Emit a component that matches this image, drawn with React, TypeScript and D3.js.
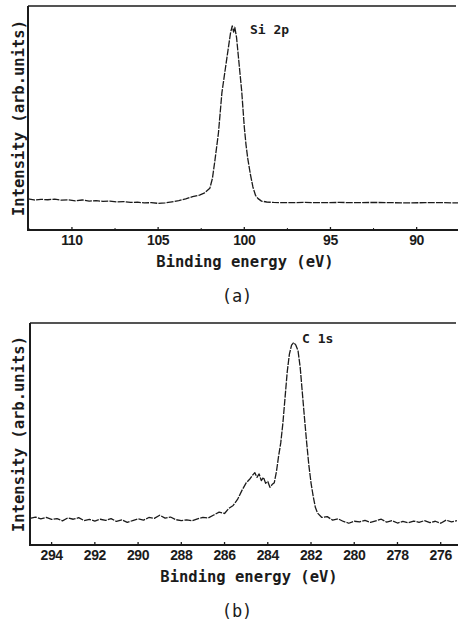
import React from "react";
import * as d3 from "d3";

// Si 2p spectrum (a)
const si2pEnergy = [
  112.55, 112.2, 111.8, 111.4, 111.0, 110.6, 110.2, 109.8, 109.4, 109.0, 108.6, 108.2,
  107.8, 107.4, 107.0, 106.6, 106.2, 105.8, 105.4, 105.0, 104.6, 104.2, 103.8, 103.4,
  103.0, 102.6, 102.3, 102.0, 101.85, 101.7, 101.5, 101.3, 101.1, 100.95, 100.8, 100.7,
  100.62, 100.55, 100.45, 100.35, 100.25, 100.15, 100.0, 99.9, 99.8, 99.65, 99.5, 99.35,
  99.2, 99.0, 98.7, 98.3, 97.5, 96.5, 95.5, 94.5, 93.5, 92.5, 91.5, 90.5, 89.5, 88.5, 87.6,
];
const si2pIntensity = [
  13.9, 13.4, 13.7, 13.5, 13.8, 13.3, 13.5, 13.0, 13.4, 12.9, 13.1, 12.8,
  12.9, 12.5, 12.7, 12.3, 12.4, 12.1, 12.2, 11.9, 12.1, 12.6, 13.1, 13.9,
  14.9, 15.6, 16.6, 18.6, 23, 31.3, 43.3, 61.2, 72, 80, 87.9, 91.1,
  88.4, 90.5, 86, 78, 70, 62, 46, 38, 32, 25, 19.2, 15.5,
  14.0, 12.9, 12.5, 12.3, 12.2, 12.3, 12.2, 12.3, 12.2, 12.3, 12.2, 12.1, 12.2, 12.2, 12.1,
];
const si2pTicks = [110, 105, 100, 95, 90];
const si2pMinorTicks = [112.5, 107.5, 102.5, 97.5, 92.5];

// C 1s spectrum (b)
const c1sEnergy = [
  295.0, 294.75, 294.5, 294.25, 294.0, 293.75, 293.5, 293.25, 293.0, 292.75, 292.5, 292.25,
  292.0, 291.75, 291.5, 291.25, 291.0, 290.75, 290.5, 290.25, 290.0, 289.75, 289.5, 289.25,
  289.0, 288.75, 288.5, 288.25, 288.0, 287.75, 287.5, 287.25, 287.0, 286.75, 286.5, 286.25,
  286.0, 285.8, 285.6, 285.4, 285.2, 285.0, 284.85, 284.7, 284.6, 284.5, 284.4, 284.3,
  284.2, 284.1, 284.0, 283.9, 283.8, 283.7, 283.6, 283.5, 283.4, 283.3, 283.2, 283.1,
  283.0, 282.9, 282.8, 282.7, 282.6, 282.5, 282.4, 282.3, 282.2, 282.1, 282.0, 281.9,
  281.8, 281.7, 281.5, 281.25, 281.0, 280.75, 280.5, 280.25, 280.0, 279.75, 279.5, 279.25,
  279.0, 278.75, 278.5, 278.25, 278.0, 277.75, 277.5, 277.25, 277.0, 276.75, 276.5, 276.25,
  276.0, 275.75, 275.5, 275.25,
];
const c1sIntensity = [
  12.0, 12.6, 11.8, 12.4, 11.5, 11.9, 10.9, 12.2, 11.6, 12.3, 11.0, 11.5,
  10.8, 11.6, 11.1, 11.9, 10.6, 11.3, 10.2, 11.0, 11.8, 11.2, 12.4, 12.0,
  13.4, 12.1, 12.6, 11.4, 11.0, 11.3, 10.9, 11.8, 12.4, 12.2, 13.5, 14.8,
  14.2, 16.5, 17.8, 20.5, 24.5, 28.0, 29.5, 31.5, 32.6, 30.5, 32.0, 29.0,
  30.5, 27.8, 28.6, 26.0, 27.2, 28.0, 33.0, 40.0, 46.0, 55.0, 66.5, 78.0,
  86.0, 90.0, 91.2, 90.0, 87.5, 80.0, 68.5, 57.0, 46.0, 36.0, 28.0, 22.0,
  17.0, 14.4, 12.4, 12.8, 11.2, 11.8, 10.6, 9.8, 10.7, 10.4, 11.1, 10.2,
  10.9, 11.6, 10.3, 11.0, 9.9, 10.6, 10.0, 10.8, 10.2, 11.0, 10.1, 10.7,
  9.8, 11.2, 10.4, 11.0,
];
const c1sTicks = [294, 292, 290, 288, 286, 284, 282, 280, 278, 276];

const monoFont = "'DejaVu Sans Mono', monospace";
const tickFont = "'Liberation Sans', Arial, sans-serif";
const ink = "#1b1b1b";

type PanelProps = {
  energy: number[];
  intensity: number[];
  domain: [number, number];
  ticks: number[];
  minorTicks?: number[];
  left: number;
  right: number;
  top: number;
  bottom: number;
  peakLabel: string;
  peakX: number;
  peakY: number;
  caption: string;
  titleX: number;
};

const Panel = (p: PanelProps) => {
  const x = d3.scaleLinear().domain(p.domain).range([p.left, p.right]);
  const y = d3.scaleLinear().domain([0, 100]).range([p.bottom, p.top]);
  const pts = p.energy.map((e, i) => [e, p.intensity[i]] as [number, number]);
  const line = d3
    .line<[number, number]>()
    .x((d) => x(d[0]))
    .y((d) => y(d[1]));
  const midY = (p.top + p.bottom) / 2;

  return (
    <g>
      {/* frame */}
      <line x1={p.left} y1={p.top} x2={p.right - 2} y2={p.top} stroke={ink} strokeWidth={1.5} />
      <line x1={p.left} y1={p.top} x2={p.left} y2={p.bottom + 1} stroke={ink} strokeWidth={2} />
      <line x1={p.left} y1={p.bottom} x2={p.right} y2={p.bottom} stroke={ink} strokeWidth={2} />

      {/* ticks */}
      {p.ticks.map((t) => (
        <g key={t}>
          <line x1={x(t)} x2={x(t)} y1={p.bottom} y2={p.bottom - 3} stroke={ink} strokeWidth={1.3} />
          <text
            x={x(t)}
            y={p.bottom + 15}
            textAnchor="middle"
            fontFamily={tickFont}
            fontWeight="bold"
            fontSize={14}
            fill={ink}
            letterSpacing={-0.4}
          >
            {t}
          </text>
        </g>
      ))}
      {(p.minorTicks || []).map((t) => (
        <line key={t} x1={x(t)} x2={x(t)} y1={p.bottom} y2={p.bottom - 2} stroke={ink} strokeWidth={1} />
      ))}

      {/* spectrum */}
      <path
        d={line(pts) || ""}
        fill="none"
        stroke={ink}
        strokeWidth={1.3}
        strokeDasharray="7 1.2"
        strokeLinejoin="round"
      />

      <text x={p.peakX} y={p.peakY} fontFamily={monoFont} fontWeight="bold" fontSize={13} fill={ink}>
        {p.peakLabel}
      </text>

      {/* axis titles */}
      <text
        x={p.titleX}
        y={p.bottom + 37}
        textAnchor="middle"
        fontFamily={monoFont}
        fontWeight="bold"
        fontSize={15.5}
        fill={ink}
      >
        Binding energy (eV)
      </text>
      <text
        transform={`translate(24,${midY}) rotate(-90)`}
        textAnchor="middle"
        fontFamily={monoFont}
        fontWeight="bold"
        fontSize={15.5}
        fill={ink}
      >
        Intensity (arb.units)
      </text>
      <text
        x={237}
        y={p.bottom + 72}
        textAnchor="middle"
        fontFamily={monoFont}
        fontSize={17}
        fill={ink}
      >
        {p.caption}
      </text>
    </g>
  );
};

export default function App() {
  return (
    <svg
      width={458}
      height={628}
      style={{ position: "absolute", left: 0, top: 0, background: "#fff" }}
    >
      <rect width={458} height={628} fill="#fff" />
      <Panel
        energy={si2pEnergy}
        intensity={si2pIntensity}
        domain={[112.55, 87.6]}
        ticks={si2pTicks}
        minorTicks={si2pMinorTicks}
        left={28}
        right={458}
        top={6}
        bottom={230}
        peakLabel="Si 2p"
        peakX={250}
        peakY={34}
        caption="(a)"
        titleX={245}
      />
      <Panel
        energy={c1sEnergy}
        intensity={c1sIntensity}
        domain={[295.0, 275.2]}
        ticks={c1sTicks}
        left={30}
        right={458}
        top={323}
        bottom={545}
        peakLabel="C 1s"
        peakX={302}
        peakY={343}
        caption="(b)"
        titleX={249}
      />
    </svg>
  );
}
